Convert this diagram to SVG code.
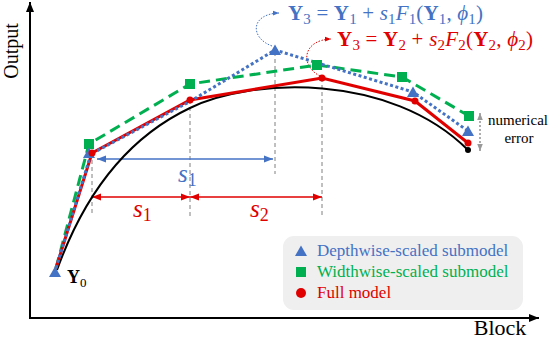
<svg xmlns="http://www.w3.org/2000/svg" width="552" height="340" viewBox="0 0 552 340">
<style>
text{font-family:"Liberation Serif","DejaVu Serif",serif}
.ax{stroke:#000;stroke-width:2;fill:none}
.vd{stroke:#808080;stroke-width:1;stroke-dasharray:4 3;fill:none}
.blue{fill:#4472C4}
.green{fill:#00B050}
.red{fill:#E00000}
.eq{font-size:21px}
.sub{font-size:15px}
.b{font-weight:bold}
.i{font-style:italic}
.lg{font-size:17px}
</style>
<defs>
<marker id="ak" viewBox="0 0 10 10" refX="10" refY="5" markerWidth="10" markerHeight="10" markerUnits="userSpaceOnUse" orient="auto-start-reverse"><path d="M0,1 L10,5 L0,9z" fill="#000"/></marker>
<marker id="ab" viewBox="0 0 10 10" refX="10" refY="5" markerWidth="9" markerHeight="9" markerUnits="userSpaceOnUse" orient="auto-start-reverse"><path d="M0,1 L10,5 L0,9z" fill="#4472C4"/></marker>
<marker id="ar" viewBox="0 0 10 10" refX="10" refY="5" markerWidth="9" markerHeight="9" markerUnits="userSpaceOnUse" orient="auto-start-reverse"><path d="M0,1 L10,5 L0,9z" fill="#E00000"/></marker>
<marker id="ag" viewBox="0 0 10 10" refX="10" refY="5" markerWidth="7" markerHeight="7" markerUnits="userSpaceOnUse" orient="auto-start-reverse"><path d="M0,1 L10,5 L0,9z" fill="#999"/></marker>
<marker id="abs" viewBox="0 0 10 10" refX="10" refY="5" markerWidth="6" markerHeight="6" markerUnits="userSpaceOnUse" orient="auto"><path d="M0,1 L10,5 L0,9z" fill="#4472C4"/></marker>
<marker id="ars" viewBox="0 0 10 10" refX="10" refY="5" markerWidth="6" markerHeight="6" markerUnits="userSpaceOnUse" orient="auto"><path d="M0,1 L10,5 L0,9z" fill="#E00000"/></marker>
<path id="tri" d="M0,-5.5 L6,5 L-6,5Z" fill="#4472C4"/>
<rect id="sq" x="-5" y="-5" width="10" height="10" fill="#00B050"/>
</defs>

<g id="axes">
<line class="ax" x1="30" y1="318" x2="30" y2="2" marker-end="url(#ak)"/>
<line class="ax" x1="29" y1="318" x2="539" y2="318" marker-end="url(#ak)"/>
<text x="0" y="0" font-size="20" transform="translate(18,51) rotate(-90)" text-anchor="middle">Output</text>
<text x="500" y="335" font-size="22" text-anchor="middle">Block</text>
</g>

<g id="connectors">
<line class="vd" x1="92" y1="153" x2="92" y2="216"/>
<line class="vd" x1="190" y1="100" x2="190" y2="216"/>
<line class="vd" x1="275" y1="52" x2="275" y2="174"/>
<line class="vd" x1="322" y1="78" x2="322" y2="216"/>
<line x1="97" y1="159" x2="273" y2="159" stroke="#4472C4" stroke-width="1.3" marker-start="url(#ab)" marker-end="url(#ab)"/>
<line x1="92" y1="197" x2="190" y2="197" stroke="#E00000" stroke-width="1.3" marker-start="url(#ar)" marker-end="url(#ar)"/>
<line x1="190" y1="197" x2="322" y2="197" stroke="#E00000" stroke-width="1.3" marker-start="url(#ar)" marker-end="url(#ar)"/>
<path d="M272,46 C250,38 250,14 279,13" fill="none" stroke="#4472C4" stroke-width="1" stroke-dasharray="1.5 1.5" marker-end="url(#abs)"/>
<path d="M320,76 C300,66 302,40 331,39" fill="none" stroke="#E00000" stroke-width="1" stroke-dasharray="1.5 1.5" marker-end="url(#ars)"/>
<line x1="480" y1="113" x2="480" y2="151" stroke="#999" stroke-width="1.6" stroke-dasharray="2 2" marker-start="url(#ag)" marker-end="url(#ag)"/>
</g>

<g id="true-curve">
<path d="M57,270 C75,220 112,145 190,108 C250,78 390,72 468,150" fill="none" stroke="#000" stroke-width="2"/>
<circle cx="468" cy="150" r="3" fill="#000"/>
</g>

<g id="widthwise">
<polyline points="56,268 89,144 190,84 317,65 402,77 469,116" fill="none" stroke="#00B050" stroke-width="3" stroke-dasharray="11 6"/>
</g>
<g id="full">
<polyline points="56,268 92,153 190,100 322,78 415,101 468,143" fill="none" stroke="#E00000" stroke-width="3"/>
</g>
<g id="depthwise">
<polyline points="56,268 91,154 190,101.5 275,50 413,92 468,131" fill="none" stroke="#4472C4" stroke-width="3" stroke-dasharray="3 2.5"/>
</g>

<g id="markers">
<use href="#sq" x="89" y="144"/>
<use href="#sq" x="190" y="84"/>
<use href="#sq" x="317" y="65"/>
<use href="#sq" x="402" y="77"/>
<use href="#sq" x="469" y="116"/>
<use href="#tri" x="89" y="153"/>
<use href="#tri" x="275" y="50"/>
<use href="#tri" x="413" y="92"/>
<use href="#tri" x="468" y="131"/>
<use href="#tri" x="55" y="272"/>
<circle cx="92" cy="153" r="3.5" fill="#E00000"/>
<circle cx="190" cy="100" r="3.5" fill="#E00000"/>
<circle cx="322" cy="78" r="3.5" fill="#E00000"/>
<circle cx="415" cy="101" r="3.5" fill="#E00000"/>
<circle cx="468" cy="143" r="3.5" fill="#E00000"/>
</g>

<g id="labels">
<text x="67" y="283" font-size="18"><tspan class="b">Y</tspan><tspan font-size="13" dy="4">0</tspan></text>
<text x="178" y="182" class="blue"><tspan class="i" font-size="25">s</tspan><tspan font-size="18" dy="4">1</tspan></text>
<text x="133" y="217" class="red"><tspan class="i" font-size="25">s</tspan><tspan font-size="18" dy="4">1</tspan></text>
<text x="250" y="217" class="red"><tspan class="i" font-size="25">s</tspan><tspan font-size="18" dy="4">2</tspan></text>
<text x="288" y="20" class="eq blue" textLength="195" lengthAdjust="spacing"><tspan class="b">Y</tspan><tspan class="sub" dy="4">3</tspan><tspan dy="-4"> = </tspan><tspan class="b">Y</tspan><tspan class="sub" dy="4">1</tspan><tspan dy="-4"> + </tspan><tspan class="i">s</tspan><tspan class="sub" dy="4">1</tspan><tspan class="i" dy="-4">F</tspan><tspan class="sub" dy="4">1</tspan><tspan dy="-4">(</tspan><tspan class="b">Y</tspan><tspan class="sub" dy="4">1</tspan><tspan dy="-4">, </tspan><tspan class="i">ϕ</tspan><tspan class="sub" dy="4">1</tspan><tspan dy="-4">)</tspan></text>
<text x="337" y="46" class="eq red" textLength="196" lengthAdjust="spacing"><tspan class="b">Y</tspan><tspan class="sub" dy="4">3</tspan><tspan dy="-4"> = </tspan><tspan class="b">Y</tspan><tspan class="sub" dy="4">2</tspan><tspan dy="-4"> + </tspan><tspan class="i">s</tspan><tspan class="sub" dy="4">2</tspan><tspan class="i" dy="-4">F</tspan><tspan class="sub" dy="4">2</tspan><tspan dy="-4">(</tspan><tspan class="b">Y</tspan><tspan class="sub" dy="4">2</tspan><tspan dy="-4">, </tspan><tspan class="i">ϕ</tspan><tspan class="sub" dy="4">2</tspan><tspan dy="-4">)</tspan></text>
<text x="518" y="125" font-size="15" text-anchor="middle">numerical</text>
<text x="519" y="143" font-size="15" text-anchor="middle">error</text>
</g>

<g id="legend">
<rect x="283" y="236" width="240" height="74" rx="11" fill="#EFEFEF"/>
<use href="#tri" x="301" y="251"/>
<rect x="296" y="267" width="10" height="10" fill="#00B050"/>
<circle cx="301" cy="293" r="5" fill="#E00000"/>
<text x="317" y="256" class="lg blue">Depthwise-scaled submodel</text>
<text x="317" y="277" class="lg green">Widthwise-scaled submodel</text>
<text x="317" y="298" class="lg red">Full model</text>
</g>
</svg>
